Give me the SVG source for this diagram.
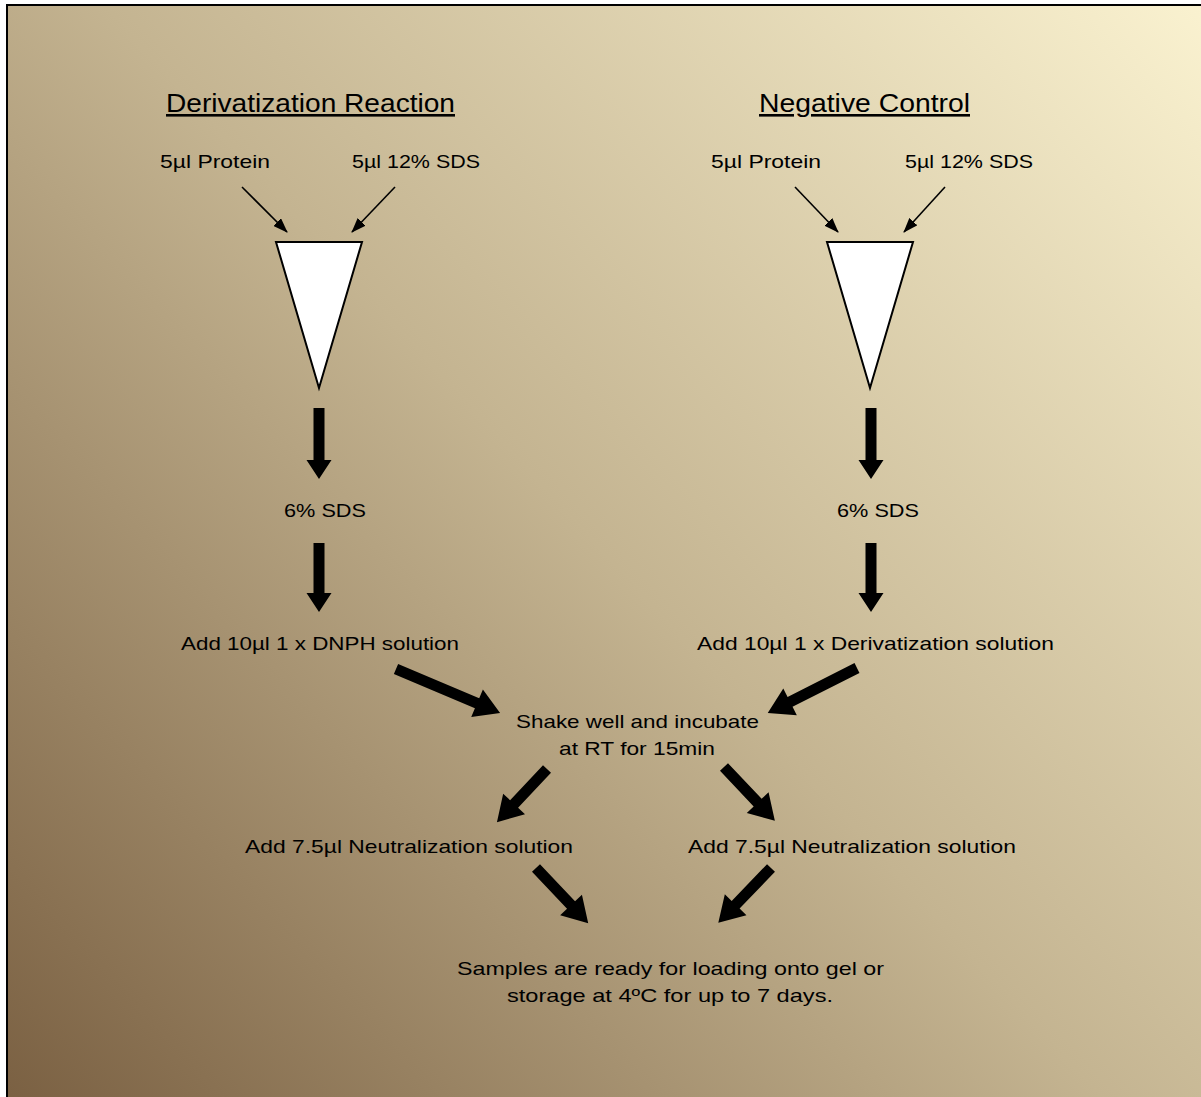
<svg xmlns="http://www.w3.org/2000/svg" width="1201" height="1097" viewBox="0 0 1201 1097">
<defs>
<linearGradient id="bg" gradientUnits="userSpaceOnUse" x1="0" y1="1097" x2="1201" y2="0">
<stop offset="0" stop-color="#7a6042"/>
<stop offset="0.5" stop-color="#c4b491"/>
<stop offset="1" stop-color="#faf2d0"/>
</linearGradient>
<marker id="thin" markerUnits="userSpaceOnUse" markerWidth="15" markerHeight="11" refX="14" refY="5.5" orient="auto" viewBox="0 0 15 11">
<path d="M0,0 L15,5.5 L0,11 Z" fill="#000"/>
</marker>
<style>
text{font-family:"Liberation Sans",Arial,sans-serif;fill:#000;}
.t{font-size:19px;}
.h{font-size:26px;text-decoration:underline;}
.big{fill:#000;stroke:none;}
.sm{stroke:#000;stroke-width:1.6;fill:none;marker-end:url(#thin);}
.tube{fill:#fff;stroke:#000;stroke-width:2;}
</style>
</defs>
<rect x="0" y="0" width="1201" height="1097" fill="#fff"/>
<rect x="7" y="5" width="1200" height="1100" fill="url(#bg)" stroke="#000" stroke-width="2"/>

<g id="title-left"><text class="h" x="166" y="112" textLength="289" lengthAdjust="spacingAndGlyphs">Derivatization Reaction</text></g>
<g id="title-right"><text class="h" x="759" y="112" textLength="211" lengthAdjust="spacingAndGlyphs">Negative Control</text></g>

<g id="protein-left"><text class="t" x="160" y="168" textLength="110" lengthAdjust="spacingAndGlyphs">5µl  Protein</text></g>
<g id="sds-left"><text class="t" x="352" y="168" textLength="128" lengthAdjust="spacingAndGlyphs">5µl  12% SDS</text></g>
<g id="protein-right"><text class="t" x="711" y="168" textLength="110" lengthAdjust="spacingAndGlyphs">5µl  Protein</text></g>
<g id="sds-right"><text class="t" x="905" y="168" textLength="128" lengthAdjust="spacingAndGlyphs">5µl  12% SDS</text></g>

<g id="tube-left"><polygon class="tube" points="276,242 362,242 319,388"/></g>
<g id="tube-right"><polygon class="tube" points="827,242 913,242 870,388"/></g>

<g id="sds6-left"><text class="t" x="284" y="517" textLength="82" lengthAdjust="spacingAndGlyphs">6% SDS</text></g>
<g id="sds6-right"><text class="t" x="837" y="517" textLength="82" lengthAdjust="spacingAndGlyphs">6% SDS</text></g>

<g id="dnph"><text class="t" x="181" y="650" textLength="278" lengthAdjust="spacingAndGlyphs">Add 10µl  1 x DNPH solution</text></g>
<g id="deriv"><text class="t" x="697" y="650" textLength="357" lengthAdjust="spacingAndGlyphs">Add 10µl  1 x Derivatization solution</text></g>

<g id="incubate">
<text class="t" x="516" y="728" textLength="243" lengthAdjust="spacingAndGlyphs">Shake well and incubate</text>
<text class="t" x="559" y="755" textLength="156" lengthAdjust="spacingAndGlyphs">at RT for 15min</text>
</g>

<g id="neutral-left"><text class="t" x="245" y="853" textLength="328" lengthAdjust="spacingAndGlyphs">Add 7.5µl  Neutralization solution</text></g>
<g id="neutral-right"><text class="t" x="688" y="853" textLength="328" lengthAdjust="spacingAndGlyphs">Add 7.5µl  Neutralization solution</text></g>

<g id="final">
<text class="t" x="457" y="975" textLength="427" lengthAdjust="spacingAndGlyphs">Samples are ready for loading onto gel or</text>
<text class="t" x="507" y="1002" textLength="326" lengthAdjust="spacingAndGlyphs">storage at 4ºC for up to 7 days.</text>
</g>

<g id="connectors">
<line class="sm" x1="242" y1="187" x2="287" y2="232"/>
<line class="sm" x1="395" y1="187" x2="352" y2="232"/>
<line class="sm" x1="795" y1="187" x2="838" y2="232"/>
<line class="sm" x1="945" y1="187" x2="904" y2="232"/>
<path class="big" transform="translate(319,408) rotate(90)" d="M0,-5.5 H52 V-12.5 L71,0 L52,12.5 V5.5 H0 Z"/>
<path class="big" transform="translate(319,543) rotate(90)" d="M0,-5.5 H50 V-12.5 L69,0 L50,12.5 V5.5 H0 Z"/>
<path class="big" transform="translate(871,408) rotate(90)" d="M0,-5.5 H52 V-12.5 L71,0 L52,12.5 V5.5 H0 Z"/>
<path class="big" transform="translate(871,543) rotate(90)" d="M0,-5.5 H50 V-12.5 L69,0 L50,12.5 V5.5 H0 Z"/>
<path class="big" transform="translate(396,669) rotate(22.9)" d="M0,-5.5 H88 V-15 L113,0 L88,15 V5.5 H0 Z"/>
<path class="big" transform="translate(857,668) rotate(153.2)" d="M0,-5.5 H75 V-15 L100,0 L75,15 V5.5 H0 Z"/>
<path class="big" transform="translate(547,769) rotate(133.3)" d="M0,-5.5 H48 V-15 L73,0 L48,15 V5.5 H0 Z"/>
<path class="big" transform="translate(724,767) rotate(46.6)" d="M0,-5.5 H49 V-15 L74,0 L49,15 V5.5 H0 Z"/>
<path class="big" transform="translate(536,868) rotate(46.6)" d="M0,-5.5 H51 V-15 L76,0 L51,15 V5.5 H0 Z"/>
<path class="big" transform="translate(771,868) rotate(133.9)" d="M0,-5.5 H51 V-15 L76,0 L51,15 V5.5 H0 Z"/>
</g>
</svg>
